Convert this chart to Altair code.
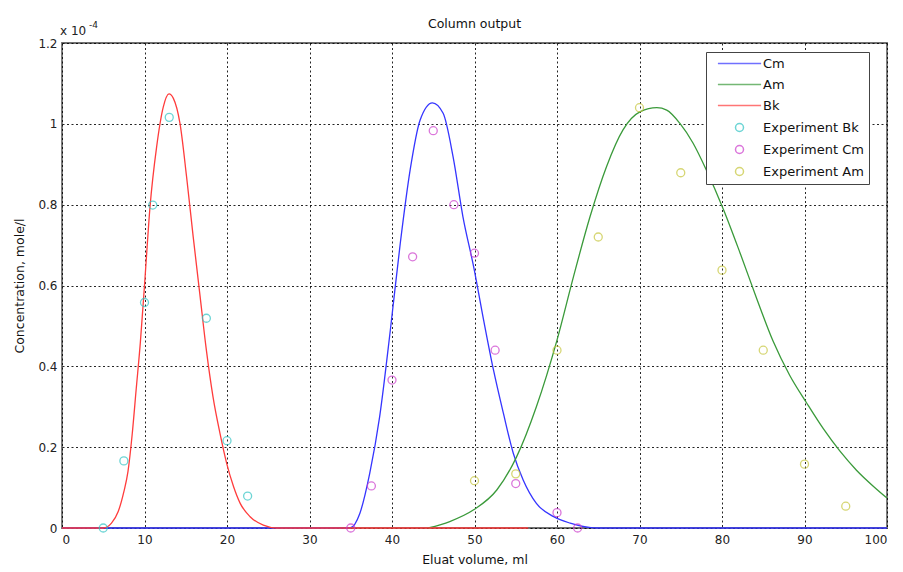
import altair as alt
import pandas as pd

# ---- model curves (values in units of 1e-4 mole/l) ----
bk_x = [0, 5.0, 6.0, 6.8, 7.5, 8.0, 8.5, 9.0, 9.5, 10.0, 10.67, 11.47, 12.28, 12.97, 13.5,
        14.3, 15.1, 15.9, 16.7, 17.5, 18.3, 19.15, 19.96, 20.8, 21.6, 22.8, 24.4, 26.0, 40, 56.5]
bk_y = [0, 0, 0.012, 0.04, 0.09, 0.14, 0.23, 0.345, 0.46, 0.6, 0.795, 0.943, 1.042, 1.074, 1.063,
        1.001, 0.869, 0.721, 0.58, 0.44, 0.325, 0.234, 0.16, 0.102, 0.061, 0.028, 0.007, 0, 0, 0]

cm_x = [0, 20, 34.9, 36.1, 37.3, 38.5, 39.8, 41.0, 42.2, 43.4, 44.9, 46.2, 47.4, 48.6, 49.9,
        51.1, 52.3, 53.5, 54.7, 55.9, 57.5, 59.6, 61.6, 64.8, 80, 100]
cm_y = [0, 0, 0, 0.036, 0.135, 0.275, 0.49, 0.704, 0.886, 1.009, 1.052, 1.026, 0.919, 0.77, 0.646,
        0.515, 0.391, 0.284, 0.185, 0.119, 0.061, 0.028, 0.012, 0, 0, 0]

am_x = [44.4, 47.0, 49.9, 52.7, 55.1, 57.5, 60.0, 62.0, 64.0, 66.0, 68.0, 70.1, 72.1, 73.3,
        74.9, 76.5, 78.1, 80.2, 82.2, 84.2, 86.2, 88.2, 90.3, 92.3, 94.3, 96.3, 98.3, 100]
am_y = [0, 0.016, 0.045, 0.094, 0.176, 0.3, 0.465, 0.622, 0.77, 0.894, 0.985, 1.03, 1.04, 1.034,
        1.001, 0.952, 0.886, 0.787, 0.68, 0.568, 0.462, 0.378, 0.308, 0.245, 0.19, 0.143, 0.104, 0.074]

# ---- experimental points ----
exp_bk_x = [5, 7.5, 10, 11, 13, 17.5, 20, 22.5]
exp_bk_y = [0, 0.166, 0.558, 0.799, 1.016, 0.519, 0.216, 0.079]
exp_cm_x = [35, 37.5, 40, 42.5, 45, 47.5, 50, 52.5, 55, 60, 62.5]
exp_cm_y = [0, 0.104, 0.366, 0.671, 0.983, 0.80, 0.68, 0.44, 0.11, 0.038, 0]
exp_am_x = [50, 55, 60, 65, 70, 75, 80, 85, 90, 95]
exp_am_y = [0.117, 0.134, 0.44, 0.72, 1.04, 0.879, 0.638, 0.44, 0.158, 0.054]

series = ["Cm", "Am", "Bk", "Experiment Bk", "Experiment Cm", "Experiment Am"]
colors = ["#3535ff", "#3a9a3a", "#ff3c3c", "#30c4c4", "#cc3ccc", "#c6c63a"]
line_path = "M-5.4,0L5.4,0"
shapes = [line_path, line_path, line_path, "circle", "circle", "circle"]

x_ticks = list(range(0, 101, 10))
y_ticks = [0, 0.2, 0.4, 0.6, 0.8, 1.0, 1.2]

lines = pd.concat([
    pd.DataFrame({"x": cm_x, "y": cm_y, "series": "Cm", "ord": 0}),
    pd.DataFrame({"x": am_x, "y": am_y, "series": "Am", "ord": 1}),
    pd.DataFrame({"x": bk_x, "y": bk_y, "series": "Bk", "ord": 2}),
])
points = pd.concat([
    pd.DataFrame({"x": exp_bk_x, "y": exp_bk_y, "series": "Experiment Bk"}),
    pd.DataFrame({"x": exp_cm_x, "y": exp_cm_y, "series": "Experiment Cm"}),
    pd.DataFrame({"x": exp_am_x, "y": exp_am_y, "series": "Experiment Am"}),
])

FONT = "DejaVu Sans"


def make_legend():
    return alt.Legend(title=None, orient="none", legendX=644, legendY=9,
                      padding=5, symbolOffset=22, labelOffset=17,
                      rowPadding=7, symbolSize=64, symbolStrokeWidth=1.5,
                      fillColor="white", strokeColor="#444",
                      labelFont=FONT, labelFontSize=13, labelColor="#111",
                      labelLimit=300)


xenc = alt.X("x:Q", scale=alt.Scale(domain=[0, 100], nice=False),
             axis=alt.Axis(title="Eluat volume, ml", values=x_ticks, format="d",
                           grid=True, ticks=False, domain=False, labelPadding=6,
                           titlePadding=8))
yenc = alt.Y("y:Q", scale=alt.Scale(domain=[0, 1.2], nice=False),
             axis=alt.Axis(title="Concentration, mole/l", values=y_ticks, format="~g",
                           grid=True, ticks=False, domain=False, labelPadding=5,
                           titlePadding=11))

color = alt.Color("series:N", scale=alt.Scale(domain=series, range=colors),
                  legend=make_legend())
shape = alt.Shape("series:N", scale=alt.Scale(domain=series, range=shapes),
                  legend=make_legend())

line_layer = alt.Chart(lines).mark_line(strokeWidth=1.3, interpolate="monotone").encode(
    x=xenc, y=yenc, color=color, order="ord:Q")

point_layer = alt.Chart(points).mark_point(filled=False, size=64, strokeWidth=1.3).encode(
    x="x:Q", y="y:Q", color=color, shape=shape)

exp_text = alt.Chart(pd.DataFrame({"t": ["x 10"]})).mark_text(
    align="left", baseline="alphabetic", font=FONT, fontSize=12, color="#222").encode(
    x=alt.value(-2), y=alt.value(-8), text="t:N")
exp_sup = alt.Chart(pd.DataFrame({"t": ["-4"]})).mark_text(
    align="left", baseline="alphabetic", font=FONT, fontSize=9, color="#222").encode(
    x=alt.value(27), y=alt.value(-15), text="t:N")

chart = alt.layer(line_layer, point_layer, exp_text, exp_sup).properties(
    width=825, height=485,
    title=alt.TitleParams("Column output", font=FONT, fontSize=12.5, fontWeight="normal",
                          color="#111", offset=-9),
    autosize=alt.AutoSizeParams(type="none"),
    padding={"left": 62, "top": 43, "right": 16, "bottom": 44},
    background="white",
).configure_view(stroke="#707070", strokeWidth=1.8).configure_axis(
    gridColor="#000", gridDash=[2, 2.5], gridWidth=1, gridOpacity=0.85,
    labelFont=FONT, labelFontSize=12, labelColor="#222",
    titleFont=FONT, titleFontSize=12.5, titleFontWeight="normal", titleColor="#111",
)

chart.save("out.html", embed_options={"renderer": "svg", "actions": False})
